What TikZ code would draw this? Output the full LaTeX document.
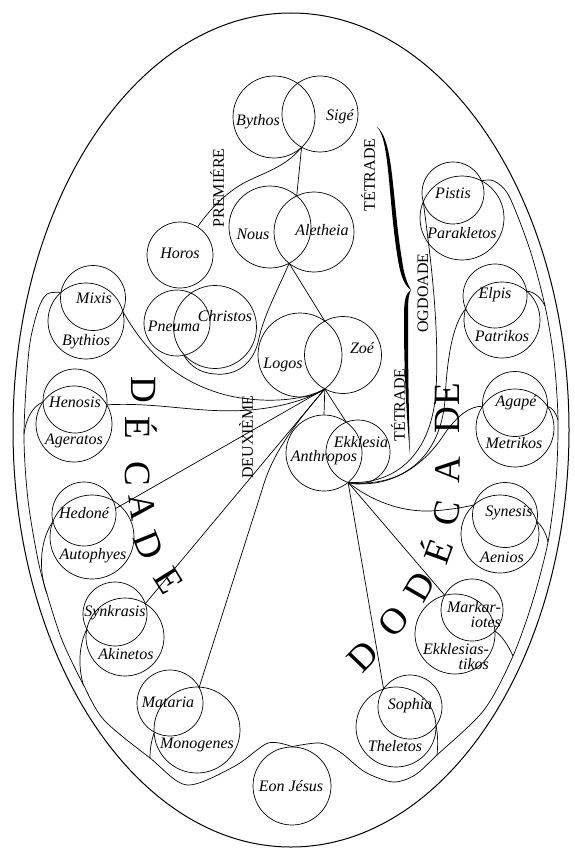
\documentclass[tikz,border=0pt]{standalone}
\usepackage{fontspec}
\setmainfont{Liberation Serif}
\tikzset{
  aeon/.style={circle, draw, inner sep=0pt, line width=0.7pt},
  lbl/.style={font=\fontsize{16}{16}\selectfont\itshape, inner sep=0pt},
  group/.style={font=\fontsize{16}{16}\selectfont, inner sep=0pt, rotate=90},
  bigletter/.style={font=\fontsize{37}{37}\selectfont, inner sep=0pt},
}
\begin{document}
\begin{tikzpicture}[x=1pt, y=-1pt, line width=0.7pt]
  \useasboundingbox (0,0) rectangle (574,848);
  \draw[line width=1pt] (291,430) ellipse [x radius=278pt, y radius=417pt];

  \node[aeon, minimum size=82pt] (bythos) at (274,117) {};
  \node[aeon, minimum size=76pt] (sige) at (320,114) {};
  \node[aeon, minimum size=82pt] (nous) at (270,227) {};
  \node[aeon, minimum size=80pt] (aletheia) at (314,232) {};
  \node[aeon, minimum size=66pt] (horos) at (180,255) {};
  \node[aeon, minimum size=66pt] (pneuma) at (177,323) {};
  \node[aeon, minimum size=83pt] (christos) at (215,327) {};
  \node[aeon, minimum size=84pt] (logos) at (300,355) {};
  \node[aeon, minimum size=77pt] (zoe) at (343,355) {};
  \node[aeon, minimum size=76pt] (anthropos) at (324,453) {};
  \node[aeon, minimum size=64pt] (ekklesia) at (358,452) {};
  \node[aeon, minimum size=65pt] (mixis) at (93,298) {};
  \node[aeon, minimum size=76pt] (bythios) at (86,321) {};
  \node[aeon, minimum size=64pt] (henosis) at (75,401) {};
  \node[aeon, minimum size=76pt] (ageratos) at (74,424) {};
  \node[aeon, minimum size=64pt] (hedone) at (84,514) {};
  \node[aeon, minimum size=84pt] (autophyes) at (92,537) {};
  \node[aeon, minimum size=64pt] (synkrasis) at (115,614) {};
  \node[aeon, minimum size=78pt] (akinetos) at (125,637) {};
  \node[aeon, minimum size=66pt] (mataria) at (170,703) {};
  \node[aeon, minimum size=86pt] (monogenes) at (197,730) {};
  \node[aeon, minimum size=78pt] (eon) at (292,786) {};
  \node[aeon, minimum size=64pt] (sophia) at (410,707) {};
  \node[aeon, minimum size=80pt] (theletos) at (396,727) {};
  \node[aeon, minimum size=62pt] (markariotes) at (472,610) {};
  \node[aeon, minimum size=80pt] (ekklesiastikos) at (455,634) {};
  \node[aeon, minimum size=65pt] (synesis) at (505,515) {};
  \node[aeon, minimum size=78pt] (aenios) at (500,534) {};
  \node[aeon, minimum size=65pt] (agape) at (515,404) {};
  \node[aeon, minimum size=78pt] (metrikos) at (515,428) {};
  \node[aeon, minimum size=64pt] (elpis) at (495,296) {};
  \node[aeon, minimum size=76pt] (patrikos) at (502,320) {};
  \node[aeon, minimum size=62pt] (pistis) at (453,193) {};
  \node[aeon, minimum size=84pt] (parakletos) at (462,218) {};

  \node[lbl] (bythos-l) at (258,122) {Bythos};
  \node[lbl] (sige-l) at (340,117) {Sigé};
  \node[lbl] (nous-l) at (253,234) {Nous};
  \node[lbl] (aletheia-l) at (322,230) {Aletheia};
  \node[lbl] (horos-l) at (180,253) {Horos};
  \node[lbl] (pneuma-l) at (174,326) {Pneuma};
  \node[lbl] (christos-l) at (225,316) {Christos};
  \node[lbl] (logos-l) at (283,365) {Logos};
  \node[lbl] (zoe-l) at (362,348) {Zoé};
  \node[lbl] (anthropos-l) at (324,458) {Anthropos};
  \node[lbl] (ekklesia-l) at (361,442) {Ekklesia};
  \node[lbl] (mixis-l) at (94,298) {Mixis};
  \node[lbl] (bythios-l) at (86,342) {Bythios};
  \node[lbl] (henosis-l) at (75,402) {Henosis};
  \node[lbl] (ageratos-l) at (74,441) {Ageratos};
  \node[lbl] (hedone-l) at (84,513) {Hedoné};
  \node[lbl] (autophyes-l) at (93,556) {Autophyes};
  \node[lbl] (synkrasis-l) at (115,613) {Synkrasis};
  \node[lbl] (akinetos-l) at (126,654) {Akinetos};
  \node[lbl] (mataria-l) at (168,702) {Mataria};
  \node[lbl] (monogenes-l) at (197,745) {Monogenes};
  \node[lbl] (eon-l) at (291,786) {Eon Jésus};
  \node[lbl] (sophia-l) at (410,706) {Sophia};
  \node[lbl] (theletos-l) at (395,746) {Theletos};
  \node[lbl, align=right] (markariotes-l) at (474,615) {Markar-\\[-1pt]iotes};
  \node[lbl, align=right] (ekklesiastikos-l) at (456,657) {Ekklesias-\\[-1pt]tikos};
  \node[lbl] (synesis-l) at (509,513) {Synesis};
  \node[lbl] (aenios-l) at (502,557) {Aenios};
  \node[lbl] (agape-l) at (516,403) {Agapé};
  \node[lbl] (metrikos-l) at (514,443) {Metrikos};
  \node[lbl] (elpis-l) at (495,295) {Elpis};
  \node[lbl] (patrikos-l) at (502,336) {Patrikos};
  \node[lbl] (pistis-l) at (453,193) {Pistis};
  \node[lbl] (parakletos-l) at (462,233) {Parakletos};

  \node[group] (premiere) at (217,188) {PREMIÉRE};
  \node[group] (tetrade-a) at (368,175) {TÉTRADE};
  \node[group] (ogdoade) at (423,293) {OGDOADE};
  \node[group] (tetrade-b) at (398,405) {TÉTRADE};
  \node[group] (deuxieme) at (246,437) {DEUXIÈME};

  \foreach \l/\x/\y/\r [count=\i] in {D/144/390/-90, É/141/428/-90, C/138/474/-90,
      A/142/507/-82, D/149/545/-68, E/169/581/-58}
    \node[bigletter, rotate=\r] (decade-\i) at (\x,\y) {\l};
  \foreach \l/\x/\y/\r [count=\i] in {D/363/656/46, O/394/622/50, D/420/587/60,
      É/435/550/70, C/447/513/80, A/448/470/88, D/447/420/90, E/447/394/90}
    \node[bigletter, rotate=\r] (dodecade-\i) at (\x,\y) {\l};

  \coordinate (bs) at (301.6,147.2);
  \coordinate (na-up) at (296.7,195.9);
  \coordinate (na-lo) at (289.1,263.3);
  \coordinate (pc-lo) at (183.9,355.3);
  \coordinate (lz-up) at (324.8,321.1);
  \coordinate (lz-lo) at (324.8,388.9);
  \coordinate (ae-up) at (346.3,422.2);
  \coordinate (ae-lo) at (348.1,482.4);
  \coordinate (mb-l) at (61,292.4);
  \coordinate (mb-r) at (122.7,311.2);
  \coordinate (ha-l) at (43,402);
  \coordinate (ha-r) at (106.8,404.8);
  \coordinate (hx-l) at (52.9,521.6);
  \coordinate (sa-l) at (86.8,629.1);
  \coordinate (sa-r) at (145.3,603.7);
  \coordinate (mm-l) at (154.1,732.9);
  \coordinate (mm-up) at (198.9,688.1);
  \coordinate (pp-l) at (423.3,201.8);
  \coordinate (pp-r) at (481.5,180.8);
  \coordinate (ep-l) at (465.7,308.8);
  \coordinate (ep-r) at (526.5,291);
  \coordinate (am-l) at (482.6,406.3);
  \coordinate (am-r) at (547.4,406.3);
  \coordinate (sy-l) at (474.2,504.9);
  \coordinate (sy-r) at (536.8,521.3);
  \coordinate (me-l) at (444.7,595.3);
  \coordinate (me-r) at (494.9,630.9);
  \coordinate (st-l) at (383.6,688.9);
  \coordinate (st-r) at (436,725.7);

  \coordinate (jr-elpis) at (545,306);
  \coordinate (jr-agape) at (558,420);
  \coordinate (jr-synesis) at (548,542);
  \coordinate (jr-mark) at (513,656);
  \coordinate (jr-thel) at (437,755);
  \coordinate (jl-henosis) at (24,434);
  \coordinate (jl-hedone) at (47,594);
  \coordinate (jl-synk) at (83,684);
  \coordinate (jl-mat) at (150,758);

  \draw (bs) -- (na-up);
  \draw (bs) .. controls (285,168) and (262,173) .. (242,184)
    .. controls (222,196) and (208,212) .. (horos.58);
  \draw (na-lo) -- (lz-up);
  \draw (na-lo) .. controls (280,285) and (264,315) .. (259,338)
    .. controls (254,365) and (235,376) .. (215,374)
    .. controls (200,373) and (190,366) .. (pc-lo);

  \draw (lz-lo) -- (anthropos.north);
  \draw (lz-lo) -- (ae-up);
  \draw (mb-r) .. controls (140,342) and (170,382) .. (230,396)
    .. controls (268,404) and (305,400) .. (lz-lo);
  \draw (ha-r) .. controls (160,402) and (200,414) .. (250,410)
    .. controls (285,407) and (310,398) .. (lz-lo);
  \draw (lz-lo) -- (hedone.10);
  \draw (lz-lo) -- (sa-r);
  \draw (lz-lo) .. controls (290,430) and (272,455) .. (262,490) -- (mm-up);

  \draw (ae-lo) -- (st-l);
  \draw (ae-lo) -- (me-l);
  \draw (ae-lo) .. controls (370,500) and (400,512) .. (430,511)
    .. controls (450,510) and (465,507) .. (sy-l);
  \draw (ae-lo) .. controls (390,490) and (425,465) .. (445,433)
    .. controls (458,415) and (470,406) .. (am-l);
  \draw (ae-lo) .. controls (400,488) and (440,460) .. (445,400)
    .. controls (447,360) and (452,325) .. (ep-l);
  \draw (ae-lo) .. controls (395,485) and (432,455) .. (436,390)
    .. controls (440,320) and (428,240) .. (pp-l);

  \draw plot[smooth] coordinates {(pp-r) (494,181) (509,196) (530,250) (jr-elpis)
    (554,360) (jr-agape) (556,480) (jr-synesis) (533,600) (jr-mark) (484,710)
    (jr-thel) (415,775) (393,782) (365,772) (340,752) (320,743) (eon.north)};
  \draw plot[smooth] coordinates {(mb-l) (47,294) (38,310) (29,350) (jl-henosis)
    (28,500) (38,560) (jl-hedone) (62,640) (jl-synk) (104,720) (jl-mat)
    (187,785) (235,766) (268,743) (eon.north)};

  \draw (ep-r) .. controls (535,292) and (541,298) .. (jr-elpis);
  \draw (am-r) .. controls (553,408) and (556,413) .. (jr-agape);
  \draw (sy-r) .. controls (542,526) and (546,533) .. (jr-synesis);
  \draw (me-r) .. controls (502,636) and (508,645) .. (jr-mark);
  \draw (st-r) .. controls (438,735) and (438,745) .. (jr-thel);
  \draw (ha-l) .. controls (33,406) and (26,418) .. (jl-henosis);
  \draw (hx-l) .. controls (40,540) and (38,570) .. (jl-hedone);
  \draw (sa-l) .. controls (79,645) and (78,665) .. (jl-synk);
  \draw (mm-l) .. controls (151,742) and (150,750) .. (jl-mat);

  \fill (377,127) .. controls (390,140) and (388,200) .. (398,260)
    .. controls (401,278) and (405,286) .. (411,290)
    .. controls (405,294) and (404,300) .. (404,320)
    .. controls (404,380) and (407,420) .. (410,455)
    .. controls (409,420) and (408,380) .. (408,320)
    .. controls (408,302) and (408,296) .. (411,290)
    .. controls (407,283) and (404,275) .. (402,260)
    .. controls (392,200) and (394,140) .. (377,127) -- cycle;
\end{tikzpicture}
\end{document}
